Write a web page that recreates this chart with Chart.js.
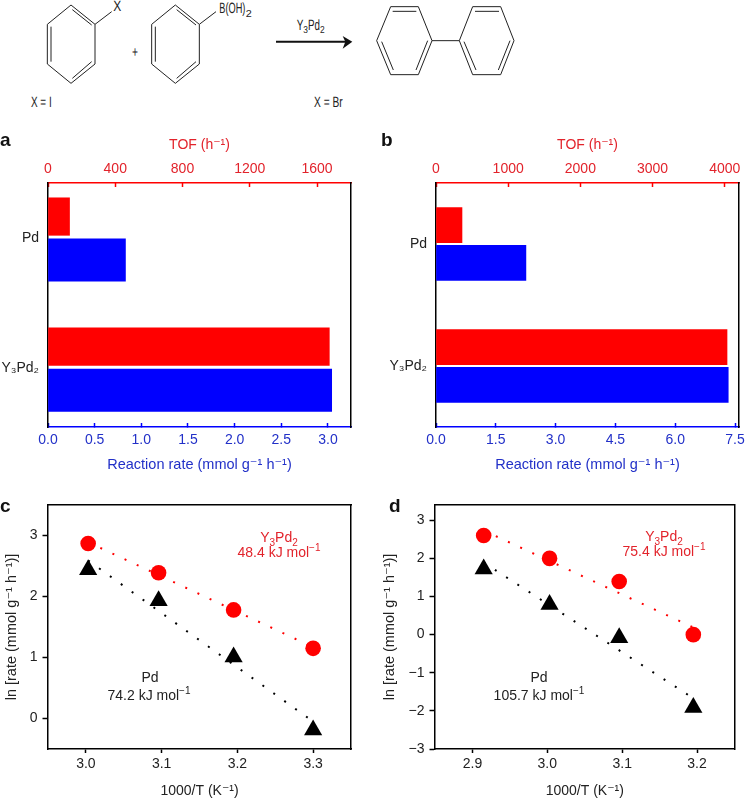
<!DOCTYPE html>
<html>
<head>
<meta charset="utf-8">
<title>Y3Pd2 catalysis</title>
<script src="https://cdn.jsdelivr.net/npm/chart.js@4/dist/chart.umd.min.js"></script>
<style>
    html, body { margin: 0; padding: 0; background: #fff; }
    body { position: relative; width: 745px; height: 800px; overflow: hidden; font-family: "Liberation Sans", sans-serif; }
    canvas { position: absolute; }
    #scheme { position: absolute; left: 0; top: 0; text-rendering: geometricPrecision; }
    .letter { position: absolute; font-weight: bold; font-size: 19px; line-height: 20px; color: #111; }
    .note { position: absolute; width: 160px; margin-left: -80px; text-align: center; font-size: 14px; line-height: 17px; }
    .note sub, .note sup { font-size: 10px; line-height: 0; }
    .red { color: #e2232b; }
    .dark { color: #222; }
</style>
</head>
<body>
<svg id="scheme" width="745" height="125" viewBox="0 0 2235 375" fill="none" stroke="#222" stroke-width="3">
    <path d="M213 15L285 73V192L213 250L142 192V73Z"/>
    <path d="M217 29L275 75M153 80V185M217 235L275 185M285 73L335 35"/>
    <path d="M526 15L598 73V192L526 250L455 192V73Z"/>
    <path d="M530 29L588 75M466 80V185M530 235L588 185M598 73L648 35"/>
    <path d="M1172 20H1255L1296 122L1255 224H1172L1130 122Z"/>
    <path d="M1178 34H1249M1145 125L1180 210M1283 122L1248 210M1296 122H1378"/>
    <path d="M1418 20H1502L1542 122L1502 224H1418L1378 122Z"/>
    <path d="M1425 34H1497M1392 125L1428 210M1530 122L1495 210"/>
    <path d="M828 125H1045" stroke="#111" stroke-width="6"/>
    <path d="M1028 108L1057 125L1028 146L1036 125Z" fill="#111" stroke="none"/>
    <g fill="#222" stroke="none" font-family="Liberation Sans" font-size="45">
        <text x="340" y="32" textLength="24" lengthAdjust="spacingAndGlyphs">X</text>
        <text x="658" y="40" textLength="78" lengthAdjust="spacingAndGlyphs">B(OH)</text>
        <text x="737" y="50" font-size="30" textLength="18" lengthAdjust="spacingAndGlyphs">2</text>
        <text x="396" y="171" textLength="18" lengthAdjust="spacingAndGlyphs">+</text>
        <text x="93" y="322" textLength="62" lengthAdjust="spacingAndGlyphs">X = I</text>
        <text x="942" y="322" textLength="86" lengthAdjust="spacingAndGlyphs">X = Br</text>
        <text x="890" y="90" textLength="20" lengthAdjust="spacingAndGlyphs">Y</text>
        <text x="910" y="100" font-size="30" textLength="14" lengthAdjust="spacingAndGlyphs">3</text>
        <text x="924" y="90" textLength="36" lengthAdjust="spacingAndGlyphs">Pd</text>
        <text x="960" y="100" font-size="30" textLength="14" lengthAdjust="spacingAndGlyphs">2</text>
    </g>
</svg>

<canvas id="chartA" width="372" height="355" style="left:0;top:125px"></canvas>
<canvas id="chartB" width="373" height="355" style="left:372px;top:125px"></canvas>
<canvas id="chartC" width="372" height="310" style="left:0;top:490px"></canvas>
<canvas id="chartD" width="373" height="310" style="left:372px;top:490px"></canvas>

<div class="letter" style="left:0;top:130px">a</div>
<div class="letter" style="left:381px;top:130px">b</div>
<div class="letter" style="left:0;top:496px">c</div>
<div class="letter" style="left:389px;top:496px">d</div>

<div class="note red" style="left:279px;top:529px">Y<sub>3</sub>Pd<sub>2</sub></div>
<div class="note red" style="left:279px;top:544px">48.4 kJ mol<sup>−1</sup></div>
<div class="note dark" style="left:150px;top:669px">Pd</div>
<div class="note dark" style="left:149px;top:687px">74.2 kJ mol<sup>−1</sup></div>
<div class="note red" style="left:664px;top:528px">Y<sub>3</sub>Pd<sub>2</sub></div>
<div class="note red" style="left:664px;top:543px">75.4 kJ mol<sup>−1</sup></div>
<div class="note dark" style="left:539px;top:669px">Pd</div>
<div class="note dark" style="left:539px;top:687px">105.7 kJ mol<sup>−1</sup></div>

<script>
// Bar panels
const barCategories = ['Pd', 'Y₃Pd₂'];
const rateA = [0.83, 3.04];
const tofA = [128, 1673];
const rateB = [2.255, 7.33];
const tofB = [360, 4032];
const rateTicksA = [0, 0.5, 1, 1.5, 2, 2.5, 3];
const tofTicksA = [0, 400, 800, 1200, 1600];
const rateTicksB = [0, 1.5, 3, 4.5, 6, 7.5];
const tofTicksB = [0, 1000, 2000, 3000, 4000];

// Arrhenius panels
const invTempC = [3.003, 3.096, 3.195, 3.3];
const y3pd2C = [2.87, 2.39, 1.78, 1.15];
const pdC = [2.44, 1.93, 1.01, -0.19];
const y3pd2FitC = [2.89, 1.17];
const pdFitC = [2.59, -0.05];
const invTempD = [2.915, 3.003, 3.096, 3.195];
const y3pd2D = [2.6, 2.0, 1.395, 0];
const pdD = [1.72, 0.79, -0.08, -1.91];
const y3pd2FitD = [2.73, 0.19];
const pdFitD = [1.89, -1.67];
const xTicksC = [3.0, 3.1, 3.2, 3.3];
const yTicksC = [0, 1, 2, 3];
const xTicksD = [2.9, 3.0, 3.1, 3.2];
const yTicksD = [-3, -2, -1, 0, 1, 2, 3];

const RED = '#ff0000';
const BLUE = '#0000ff';
const RED_TEXT = '#e2232b';
const BLUE_TEXT = '#2230c8';
const DARK = '#222222';
const LINE = 1.5;

Chart.defaults.font.family = '"Liberation Sans", "DejaVu Sans", sans-serif';
Chart.defaults.font.size = 14;

// pin the axis size so the plot area lands where it should, labels may overhang
const fixedSize = px => scale => {
    if (scale.isHorizontal()) scale.height = px;
    else scale.width = px;
    scale.paddingLeft = scale.paddingRight = scale.paddingTop = scale.paddingBottom = 0;
};

const fixedTicks = list => scale => {
    scale.ticks = list.map(value => ({ value }));
};

const minusLabel = v => String(v).replace('-', '−');

// an axis that is only the frame line, no ticks or labels
function frameAxis(position, size) {
    return {
        position,
        min: 0,
        max: 1,
        afterFit: fixedSize(size),
        ticks: { display: false },
        grid: { drawOnChartArea: false, drawTicks: false },
        border: { color: '#000', width: LINE }
    };
}

function renderBarChart(id, opts) {
    const points = values => values.map((v, i) => ({ x: v, y: i }));
    new Chart(document.getElementById(id), {
        type: 'bar',
        data: {
            datasets: [
                {
                    data: points(opts.tof),
                    xAxisID: 'x2',
                    backgroundColor: RED,
                    barThickness: opts.slot,
                    maxBarThickness: opts.redBar
                },
                {
                    data: points(opts.rate),
                    xAxisID: 'x',
                    backgroundColor: BLUE,
                    barThickness: opts.slot,
                    maxBarThickness: opts.blueBar
                }
            ]
        },
        options: {
            indexAxis: 'y',
            responsive: false,
            animation: false,
            plugins: { legend: { display: false }, tooltip: { enabled: false } },
            scales: {
                x: {
                    position: 'bottom',
                    min: 0,
                    max: opts.rateMax,
                    bounds: 'data',
                    afterBuildTicks: fixedTicks(opts.rateTicks),
                    afterFit: fixedSize(53),
                    ticks: {
                        color: BLUE_TEXT,
                        padding: 9,
                        autoSkip: false,
                        maxRotation: 0,
                        callback: v => v.toFixed(1)
                    },
                    grid: { drawOnChartArea: false, tickLength: -4, tickWidth: LINE, tickColor: BLUE },
                    border: { color: BLUE, width: LINE },
                    title: {
                        display: true,
                        text: 'Reaction rate (mmol g⁻¹ h⁻¹)',
                        color: BLUE_TEXT,
                        font: { size: 14.5 },
                        padding: { top: 0, bottom: 6 }
                    }
                },
                x2: {
                    position: 'top',
                    min: 0,
                    max: opts.tofMax,
                    bounds: 'data',
                    afterBuildTicks: fixedTicks(opts.tofTicks),
                    afterFit: fixedSize(58),
                    ticks: {
                        color: RED_TEXT,
                        padding: 9,
                        autoSkip: false,
                        maxRotation: 0,
                        callback: v => String(v)
                    },
                    grid: { drawOnChartArea: false, tickLength: -4, tickWidth: LINE, tickColor: RED },
                    border: { color: RED, width: LINE },
                    title: {
                        display: true,
                        text: 'TOF (h⁻¹)',
                        color: RED_TEXT,
                        padding: { top: 12, bottom: 0 }
                    }
                },
                y: {
                    type: 'linear',
                    position: 'left',
                    reverse: true,
                    offset: false,
                    min: opts.yMin,
                    max: opts.yMax,
                    bounds: 'data',
                    afterBuildTicks: fixedTicks([0, 1]),
                    afterFit: fixedSize(opts.left),
                    ticks: { color: DARK, padding: 9, callback: v => barCategories[v] },
                    grid: { offset: false, drawOnChartArea: false, drawTicks: false },
                    border: { color: '#000', width: LINE }
                },
                y2: frameAxis('right', opts.right)
            }
        }
    });
}

function renderArrheniusChart(id, opts) {
    const points = (xs, ys) => xs.map((x, i) => ({ x, y: ys[i] }));
    const ends = [opts.invTemp[0], opts.invTemp[opts.invTemp.length - 1]];
    const fitLine = (ys, color) => ({
        data: points(ends, ys),
        showLine: true,
        borderColor: color,
        borderWidth: 2,
        borderDash: [2, 11.4],
        pointRadius: 0,
        tension: 0
    });
    new Chart(document.getElementById(id), {
        type: 'scatter',
        data: {
            datasets: [
                {
                    data: points(opts.invTemp, opts.y3pd2),
                    pointStyle: 'circle',
                    pointRadius: 7.8,
                    pointBackgroundColor: RED,
                    pointBorderWidth: 0
                },
                {
                    data: points(opts.invTemp, opts.pd),
                    pointStyle: 'triangle',
                    pointRadius: 10.5,
                    pointBackgroundColor: '#000',
                    pointBorderWidth: 0
                },
                fitLine(opts.y3pd2Fit, RED),
                fitLine(opts.pdFit, '#000')
            ]
        },
        options: {
            responsive: false,
            animation: false,
            plugins: { legend: { display: false }, tooltip: { enabled: false } },
            scales: {
                x: {
                    position: 'bottom',
                    min: opts.xMin,
                    max: opts.xMax,
                    bounds: 'data',
                    afterBuildTicks: fixedTicks(opts.xTicks),
                    afterFit: fixedSize(51),
                    ticks: {
                        color: DARK,
                        padding: 3,
                        autoSkip: false,
                        maxRotation: 0,
                        callback: v => v.toFixed(1)
                    },
                    grid: { drawOnChartArea: false, tickLength: 4, tickWidth: LINE, tickColor: '#000' },
                    border: { color: '#000', width: LINE },
                    title: {
                        display: true,
                        text: '1000/T (K⁻¹)',
                        color: DARK,
                        padding: { top: 0, bottom: 0 }
                    }
                },
                y: {
                    position: 'left',
                    min: opts.yMin,
                    max: opts.yMax,
                    bounds: 'data',
                    afterBuildTicks: fixedTicks(opts.yTicks),
                    afterFit: fixedSize(opts.left),
                    ticks: { color: DARK, padding: 5, autoSkip: false, callback: minusLabel },
                    grid: { drawOnChartArea: false, tickLength: 5.5, tickWidth: LINE, tickColor: '#000' },
                    border: { color: '#000', width: LINE },
                    title: {
                        display: true,
                        text: 'ln [rate (mmol g⁻¹ h⁻¹)]',
                        color: DARK,
                        font: { size: 14.5 },
                        padding: { top: opts.titlePad, bottom: 0 }
                    }
                },
                x2: frameAxis('top', 15),
                y2: frameAxis('right', opts.right)
            }
        }
    });
}

renderBarChart('chartA', {
    rate: rateA, tof: tofA, rateTicks: rateTicksA, tofTicks: tofTicksA,
    rateMax: 3.247, tofMax: 1802, yMin: -0.425, yMax: 1.45,
    slot: 43.5, redBar: 37.5, blueBar: 42.3, left: 48, right: 21
});
renderBarChart('chartB', {
    rate: rateB, tof: tofB, rateTicks: rateTicksB, tofTicks: tofTicksB,
    rateMax: 7.6, tofMax: 4198, yMin: -0.5, yMax: 1.5,
    slot: 37.6, redBar: 35, blueBar: 35, left: 64, right: 6
});
renderArrheniusChart('chartC', {
    invTemp: invTempC, y3pd2: y3pd2C, pd: pdC, y3pd2Fit: y3pd2FitC, pdFit: pdFitC,
    xTicks: xTicksC, yTicks: yTicksC, xMin: 2.95, xMax: 3.35, yMin: -0.5, yMax: 3.5,
    left: 48, right: 21, titlePad: 3
});
renderArrheniusChart('chartD', {
    invTemp: invTempD, y3pd2: y3pd2D, pd: pdD, y3pd2Fit: y3pd2FitD, pdFit: pdFitD,
    xTicks: xTicksD, yTicks: yTicksD, xMin: 2.85, xMax: 3.25, yMin: -3, yMax: 3.4,
    left: 63, right: 6, titlePad: 9
});
</script>
</body>
</html>
